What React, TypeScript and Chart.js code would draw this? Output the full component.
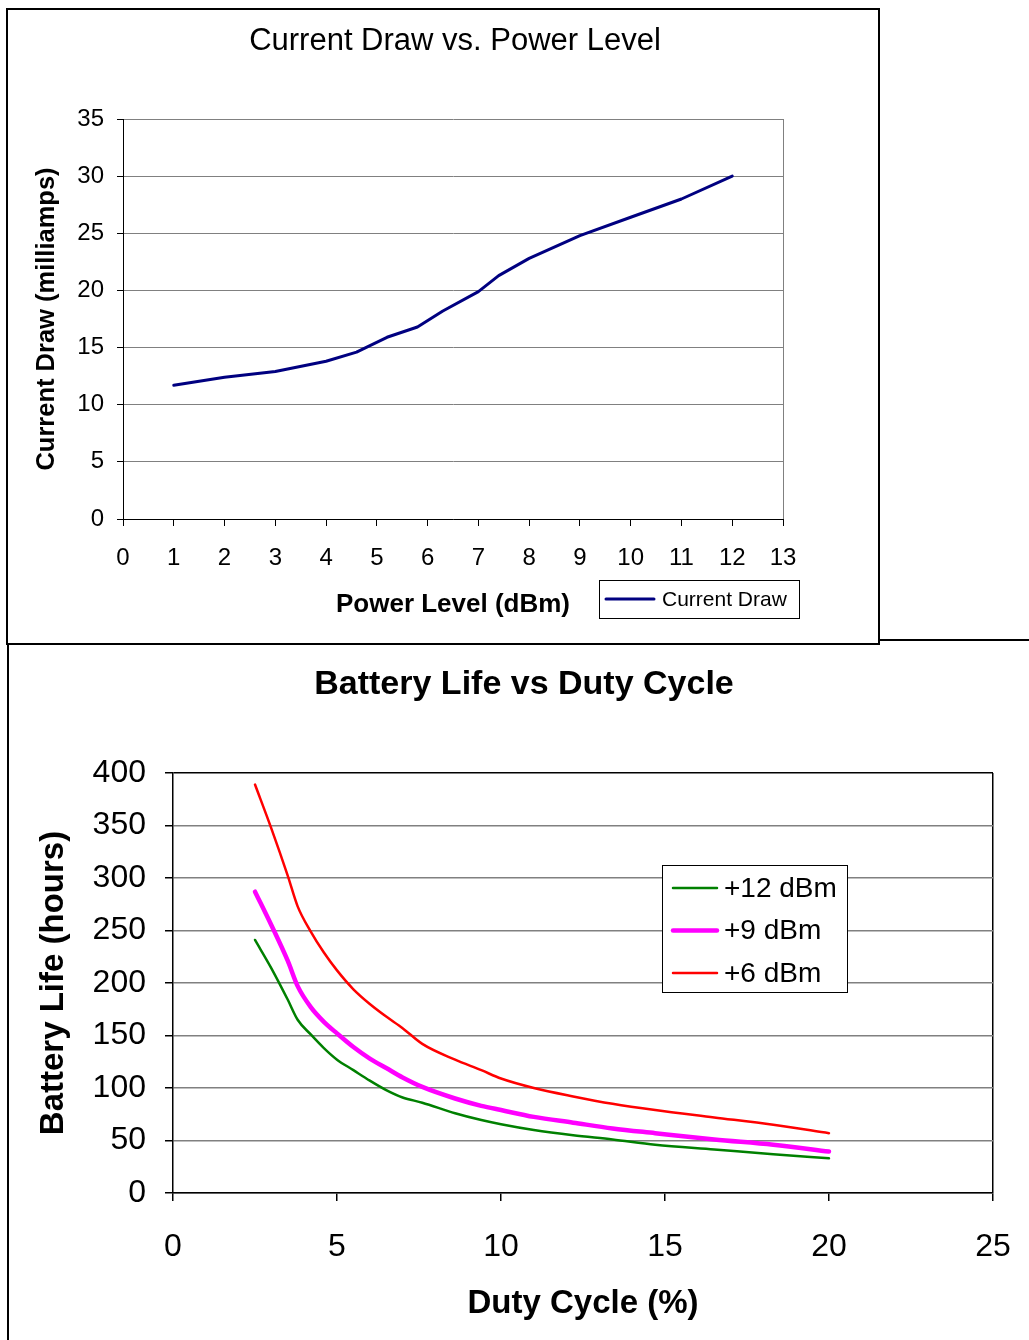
import React, { useEffect, useRef } from 'react';
import { Chart, registerables } from 'chart.js';

Chart.register(...registerables);

const FONT = '"Liberation Sans", Arial, Helvetica, sans-serif';

// ---------- Chart 1: Current Draw vs. Power Level ----------
const powerLevels = [1, 2, 3, 4, 4.6, 5.2, 5.8, 6.3, 7, 7.4, 8, 9, 10, 11, 12];
const currentDraw = [11.7, 12.4, 12.9, 13.8, 14.6, 15.9, 16.8, 18.2, 19.9, 21.3, 22.8, 24.8, 26.4, 28.0, 30.0];
const powerAxis = { min: 0, max: 13, step: 1 };
const currentAxis = { min: 0, max: 35, step: 5 };

// ---------- Chart 2: Battery Life vs Duty Cycle ----------
const dutyCycle = [2.5, 3, 3.5, 3.8, 4.2, 4.6, 5, 5.5, 6, 6.5, 7, 7.6, 8.6, 9.4, 10, 11, 12.2, 13.4, 14.7, 16.5, 18.3, 20];
const life12dBm = [241, 214, 184, 165, 151, 138, 127, 117, 107, 98, 91, 86, 76, 69.5, 65.5, 60, 55, 51, 46, 41.5, 37, 33];
const life9dBm = [287, 255, 221, 197, 177, 163, 152, 139, 128, 119, 110, 101, 90, 83, 79, 72.5, 67, 61.5, 57, 51, 46, 39.5];
const life6dBm = [389, 347, 302, 273, 249, 229, 212, 194, 180, 168, 157, 142, 127, 117, 109, 100, 92, 85, 79, 72, 65, 57];
const seriesLabels = ['+12 dBm', '+9 dBm', '+6 dBm'];
const dutyAxis = { min: 0, max: 25, step: 5 };
const lifeAxis = { min: 0, max: 400, step: 50 };

const pairs = (xs: number[], ys: number[]) => xs.map((x, i) => ({ x, y: ys[i] }));

const overlayPlugin = {
  id: 'overlay',
  afterDraw(chart: any, _args: any, opts: any) {
    const ctx = chart.ctx as CanvasRenderingContext2D;
    ctx.save();
    if (opts.title) {
      const t = opts.title;
      ctx.font = t.font;
      ctx.fillStyle = '#000';
      ctx.textAlign = 'center';
      ctx.textBaseline = 'middle';
      ctx.fillText(t.text, t.x, t.y);
    }
    if (opts.legend) {
      const L = opts.legend;
      ctx.fillStyle = '#fff';
      ctx.fillRect(L.x, L.y, L.w, L.h);
      ctx.strokeStyle = '#000';
      ctx.lineWidth = 1;
      ctx.strokeRect(L.x + 0.5, L.y + 0.5, L.w, L.h);
      const order: number[] = L.order || chart.data.datasets.map((_: any, i: number) => i);
      order.forEach((di: number, row: number) => {
        const ds = chart.data.datasets[di];
        const y = L.firstRowY + row * L.rowGap;
        ctx.strokeStyle = ds.borderColor;
        ctx.lineWidth = ds.borderWidth;
        ctx.lineCap = 'round';
        ctx.beginPath();
        ctx.moveTo(L.lineX1, y);
        ctx.lineTo(L.lineX2, y);
        ctx.stroke();
        ctx.fillStyle = '#000';
        ctx.font = L.font;
        ctx.textAlign = 'left';
        ctx.textBaseline = 'middle';
        ctx.fillText(ds.label, L.textX, y + 1);
      });
    }
    ctx.restore();
  },
};

function makeChart1(canvas: HTMLCanvasElement) {
  return new Chart(canvas, {
    type: 'line',
    data: {
      datasets: [
        {
          label: 'Current Draw',
          data: pairs(powerLevels, currentDraw),
          borderColor: '#000080',
          backgroundColor: '#000080',
          borderWidth: 3,
          pointRadius: 0,
          tension: 0,
          borderCapStyle: 'round',
          borderJoinStyle: 'round',
        },
      ],
    },
    options: {
      animation: false,
      responsive: false,
      events: [],
      layout: { padding: { left: 0, top: 119, right: 246, bottom: 0 } },
      plugins: {
        legend: { display: false },
        title: { display: false },
        tooltip: { enabled: false },
        // @ts-ignore
        overlay: {
          title: { text: 'Current Draw vs. Power Level', font: `31px ${FONT}`, x: 455, y: 41 },
          legend: {
            x: 599, y: 580, w: 200, h: 38,
            firstRowY: 599, rowGap: 0,
            lineX1: 606, lineX2: 654, textX: 662,
            font: `21px ${FONT}`,
          },
        },
      },
      scales: {
        x: {
          type: 'linear',
          min: powerAxis.min,
          max: powerAxis.max,
          ticks: {
            stepSize: powerAxis.step,
            color: '#000',
            font: { family: FONT, size: 24 },
            padding: 18,
            maxRotation: 0,
            autoSkip: false,
          },
          grid: {
            color: (c: any) => (c.tick && c.tick.value === powerAxis.max ? '#808080' : 'rgba(0,0,0,0)'),
            tickColor: '#000',
            tickLength: 7,
            lineWidth: 1,
          },
          border: { color: '#000', width: 1 },
          title: {
            display: true,
            text: 'Power Level (dBm)',
            color: '#000',
            font: { family: FONT, size: 26, weight: 'bold' },
            padding: { top: 0, bottom: 25 },
          },
          afterFit: (s: any) => { s.height = 126; s.paddingLeft = 0; s.paddingRight = 0; },
        },
        y: {
          type: 'linear',
          min: currentAxis.min,
          max: currentAxis.max,
          ticks: {
            stepSize: currentAxis.step,
            color: '#000',
            font: { family: FONT, size: 24 },
            padding: 13,
          },
          grid: { color: '#808080', tickColor: '#000', tickLength: 6, lineWidth: 1 },
          border: { color: '#000', width: 1 },
          title: {
            display: true,
            text: 'Current Draw (milliamps)',
            color: '#000',
            font: { family: FONT, size: 25.5, weight: 'bold' },
            padding: { top: 32, bottom: 0 },
          },
          afterFit: (s: any) => { s.width = 123; },
        },
      },
    },
    plugins: [overlayPlugin],
  } as any);
}

function makeChart2(canvas: HTMLCanvasElement) {
  const colors = ['#008000', '#FF00FF', '#FF0000'];
  const widths = [2.5, 4.5, 2.5];
  const orders = [1, 0, 2];
  const values = [life12dBm, life9dBm, life6dBm];
  return new Chart(canvas, {
    type: 'line',
    data: {
      datasets: values.map((v, i) => ({
        label: seriesLabels[i],
        data: pairs(dutyCycle, v),
        borderColor: colors[i],
        backgroundColor: colors[i],
        borderWidth: widths[i],
        pointRadius: 0,
        cubicInterpolationMode: 'monotone',
        borderCapStyle: 'round',
        borderJoinStyle: 'round',
        order: orders[i],
      })),
    },
    options: {
      animation: false,
      responsive: false,
      events: [],
      layout: { padding: { left: 0, top: 128, right: 36, bottom: 0 } },
      plugins: {
        legend: { display: false },
        title: { display: false },
        tooltip: { enabled: false },
        // @ts-ignore
        overlay: {
          title: { text: 'Battery Life vs Duty Cycle', font: `bold 34px ${FONT}`, x: 524, y: 40 },
          legend: {
            x: 662, y: 220, w: 185, h: 127,
            order: [0, 1, 2],
            firstRowY: 243, rowGap: 42.5,
            lineX1: 673, lineX2: 717, textX: 724,
            font: `28px ${FONT}`,
          },
        },
      },
      scales: {
        x: {
          type: 'linear',
          min: dutyAxis.min,
          max: dutyAxis.max,
          ticks: {
            stepSize: dutyAxis.step,
            color: '#000',
            font: { family: FONT, size: 32 },
            padding: 27,
            maxRotation: 0,
            autoSkip: false,
          },
          grid: {
            color: (c: any) => (c.tick && c.tick.value === dutyAxis.max ? '#000' : 'rgba(0,0,0,0)'),
            tickColor: '#000',
            tickLength: 8,
            lineWidth: 1.5,
          },
          border: { color: '#000', width: 1.5 },
          title: {
            display: true,
            text: 'Duty Cycle (%)',
            color: '#000',
            font: { family: FONT, size: 33, weight: 'bold' },
            padding: { top: 0, bottom: 16 },
          },
          afterFit: (s: any) => { s.height = 147; s.paddingLeft = 0; s.paddingRight = 0; },
        },
        y: {
          type: 'linear',
          min: lifeAxis.min,
          max: lifeAxis.max,
          ticks: {
            stepSize: lifeAxis.step,
            color: '#000',
            font: { family: FONT, size: 32 },
            padding: 19,
          },
          grid: {
            color: (c: any) => (c.tick && c.tick.value === lifeAxis.max ? '#000' : '#808080'),
            tickColor: '#000',
            tickLength: 8,
            lineWidth: 1.5,
          },
          border: { color: '#000', width: 1.5 },
          title: {
            display: true,
            text: 'Battery Life (hours)',
            color: '#000',
            font: { family: FONT, size: 33, weight: 'bold' },
            padding: { top: 34, bottom: 0 },
          },
          afterFit: (s: any) => { s.width = 173; },
        },
      },
    },
    plugins: [overlayPlugin],
  } as any);
}

export default function App() {
  const ref1 = useRef<HTMLCanvasElement>(null);
  const ref2 = useRef<HTMLCanvasElement>(null);

  useEffect(() => {
    const c1 = makeChart1(ref1.current!);
    const c2 = makeChart2(ref2.current!);
    return () => {
      c1.destroy();
      c2.destroy();
    };
  }, []);

  return (
    <div style={{ position: 'absolute', left: 0, top: 0, width: 1029, height: 1340, background: '#fff', overflow: 'hidden' }}>
      {/* frame of the top chart */}
      <div style={{ position: 'absolute', left: 6, top: 8, width: 874, height: 637, border: '2px solid #000', boxSizing: 'border-box' }} />
      {/* line right of the top frame */}
      <div style={{ position: 'absolute', left: 880, top: 639, width: 149, height: 2, background: '#000' }} />
      {/* left edge of the bottom chart */}
      <div style={{ position: 'absolute', left: 7, top: 645, width: 2, height: 695, background: '#000' }} />
      <canvas ref={ref1} width={1029} height={645} style={{ position: 'absolute', left: 0, top: 0, width: 1029, height: 645 }} />
      <canvas ref={ref2} width={1029} height={695} style={{ position: 'absolute', left: 0, top: 645, width: 1029, height: 695 }} />
    </div>
  );
}
